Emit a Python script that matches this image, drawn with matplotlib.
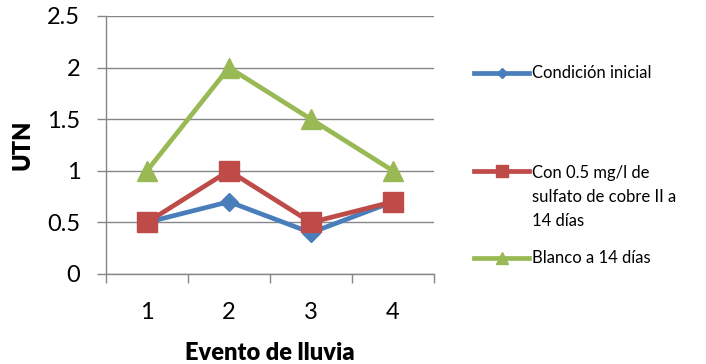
import matplotlib
matplotlib.use("Agg")
import matplotlib.pyplot as plt
from matplotlib.lines import Line2D

plt.rcParams['font.family'] = ['Lato', 'DejaVu Sans']

categories = ["1", "2", "3", "4"]
series_names = ["Condición inicial",
                "Con 0.5 mg/l de\nsulfato de cobre II a\n14 días",
                "Blanco a 14 días"]
condicion_inicial = [0.5, 0.7, 0.4, 0.7]
con_sulfato = [0.5, 1.0, 0.5, 0.7]
blanco = [1.0, 2.0, 1.5, 1.0]
y_ticks = [0, 0.5, 1, 1.5, 2, 2.5]
y_tick_labels = ["0", "0.5", "1", "1.5", "2", "2.5"]

colors = ["#4A7EBB", "#BE4B48", "#98B954"]
markers = ["D", "s", "^"]
msizes = [9, 14, 14]
values = [condicion_inicial, con_sulfato, blanco]

W, H = 706, 364
fig = plt.figure(figsize=(W / 100, H / 100), dpi=100)
ax = fig.add_axes([106 / W, 1 - 274 / H, (434 - 106) / W, (274 - 16) / H])

x = list(range(len(categories)))
for vals, c, m, ms in zip(values, colors, markers, msizes):
    ax.plot(x, vals, color=c, lw=3.4, marker=m, ms=ms, mec=c, mfc=c, zorder=3,
            clip_on=False)

ax.set_xlim(-0.5, len(categories) - 0.5)
ax.set_ylim(0, 2.5)
ax.set_yticks(y_ticks)
ax.set_yticklabels(y_tick_labels)
ax.set_xticks(x)
ax.set_xticklabels(categories)
ax.set_xticks([i - 0.5 for i in range(len(categories) + 1)], minor=True)
ax.tick_params(axis='x', which='major', length=0, pad=20, labelsize=17)
ax.tick_params(axis='x', which='minor', length=6.5, width=1, color="#868686", direction='out')
ax.tick_params(axis='y', length=6.5, width=1, color="#868686", pad=12, labelsize=17)
ax.grid(axis='y', color="#868686", lw=1)
ax.set_axisbelow(True)
for s in ["top", "right"]:
    ax.spines[s].set_visible(False)
for s in ["left", "bottom"]:
    ax.spines[s].set_color("#868686")
    ax.spines[s].set_linewidth(1)

ax.set_xlabel("Evento de lluvia", fontsize=17, fontweight='heavy', labelpad=14)
ax.set_ylabel("UTN", fontsize=17, fontweight='heavy', labelpad=10)

# legend drawn manually
entries_y = [73, 171, 258]
for name, c, m, ms, yy in zip(series_names, colors, markers, msizes, entries_y):
    fy = 1 - yy / H
    fig.add_artist(Line2D([474 / W, 529 / W], [fy, fy], color=c, lw=3.4,
                          transform=fig.transFigure))
    fig.add_artist(Line2D([501.5 / W], [fy], color=c, marker=m, ms=ms * 0.6,
                          mec=c, mfc=c, transform=fig.transFigure))
    if '\n' in name:
        fig.text(532 / W, 1 - (yy - 6) / H, name, fontsize=12, va='top', ha='left',
                 linespacing=1.6)
    else:
        fig.text(532 / W, fy, name, fontsize=12, va='center', ha='left')

fig.savefig("out.png", dpi=100)
